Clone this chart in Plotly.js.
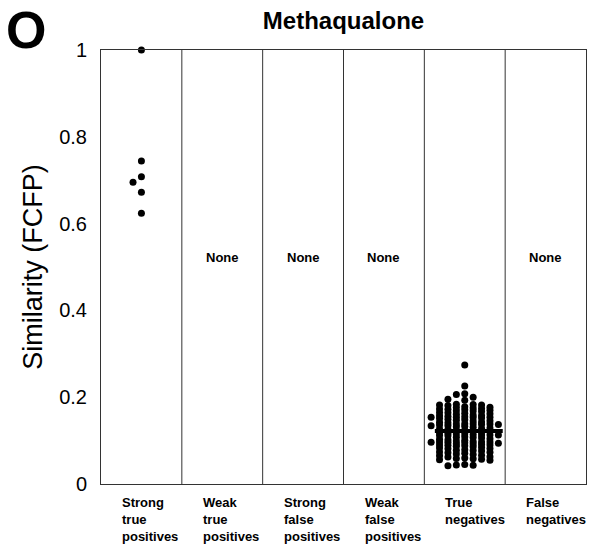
<!DOCTYPE html>
<html>
<head>
<meta charset="utf-8">
<script src="https://cdn.plot.ly/plotly-3.0.1.min.js"></script>
<style>
  html, body { margin: 0; padding: 0; background: #fff; }
  #chart { width: 589px; height: 550px; }
</style>
</head>
<body>
<div id="chart"></div>
<script>
// Outcome groups along the x axis
const categories = [
  'Strong true positives', 'Weak true positives', 'Strong false positives',
  'Weak false positives', 'True negatives', 'False negatives'
];
const categoryLabels = [
  'Strong<br>true<br>positives', 'Weak<br>true<br>positives', 'Strong<br>false<br>positives',
  'Weak<br>false<br>positives', 'True<br>negatives', 'False<br>negatives'
];

// FCFP similarity values per group
const strongTruePositives = [1.0, 0.744, 0.708, 0.695, 0.672, 0.624];
const weakTruePositives = [];
const strongFalsePositives = [];
const weakFalsePositives = [];
const trueNegatives = [
  0.274, 0.226, 0.208, 0.206, 0.200, 0.195, 0.193,
  0.184, 0.183, 0.182, 0.182, 0.181,
  0.178, 0.177, 0.176, 0.175, 0.174, 0.173, 0.172, 0.171, 0.170,
  0.169, 0.168, 0.167, 0.165, 0.164, 0.163, 0.162, 0.161,
  0.159, 0.158, 0.157, 0.156, 0.155, 0.154, 0.154, 0.154, 0.153, 0.152, 0.151,
  0.149, 0.148, 0.147, 0.146, 0.145, 0.143, 0.142, 0.141,
  0.139, 0.138, 0.138, 0.138, 0.137, 0.137, 0.136, 0.135, 0.134, 0.133, 0.132, 0.131,
  0.129, 0.128, 0.127, 0.126, 0.124, 0.123, 0.122, 0.121,
  0.119, 0.118, 0.117, 0.116, 0.115, 0.114, 0.113, 0.113, 0.113, 0.112, 0.111,
  0.109, 0.108, 0.107, 0.106, 0.104, 0.103, 0.102, 0.101,
  0.099, 0.098, 0.097, 0.097, 0.097, 0.096, 0.096, 0.095, 0.094, 0.093, 0.092, 0.091, 0.090, 0.090,
  0.089, 0.088, 0.087, 0.086, 0.084, 0.083, 0.082, 0.081,
  0.079, 0.078, 0.077, 0.076, 0.074, 0.073, 0.072, 0.071,
  0.069, 0.068, 0.066, 0.065, 0.063, 0.062, 0.060,
  0.059, 0.058, 0.057, 0.056, 0.055,
  0.045, 0.044, 0.043, 0.042
];
const falseNegatives = [];

const groups = [
  strongTruePositives, weakTruePositives, strongFalsePositives,
  weakFalsePositives, trueNegatives, falseNegatives
];
// groups that get a median bar
const showMedian = [false, false, false, false, true, false];

const FONT = 'Arial, "Liberation Sans", sans-serif';

// Column-scatter layout: points go into fixed horizontal slots.
// 1) an inner slot (|s| <= 3) with a full dot of clearance, nearest the centre first;
// 2) otherwise the inner slot with the most room, if dots may overlap there;
// 3) otherwise the roomiest slot of the next ring out (|s| = 4, 5, ...).
function swarm(values, center, slotWidth) {
  const INNER = 3, MAXRING = 6;
  const order = [0];
  for (let k = 1; k <= MAXRING; k++) order.push(-k, k);
  const fullGap = 0.0135, overlapGap = 0.0056;
  const lastInSlot = {};
  const room = (s, v) => lastInSlot[s] === undefined ? Infinity : lastInSlot[s] - v;
  const roomiest = (slots, v) => slots.reduce((b, s) => (room(s, v) > room(b, v) ? s : b), slots[0]);
  const inner = order.filter(s => Math.abs(s) <= INNER);
  const xs = [], ys = [];
  const sorted = values.slice().sort((a, b) => b - a);
  for (const v of sorted) {
    let slot = inner.find(s => room(s, v) >= fullGap - 1e-9);
    if (slot === undefined) {
      const b = roomiest(inner, v);
      if (room(b, v) >= overlapGap - 1e-9) slot = b;
    }
    for (let k = INNER + 1; slot === undefined && k <= MAXRING; k++) {
      const b = roomiest([-k, k], v);
      if (room(b, v) >= overlapGap - 1e-9) slot = b;
    }
    if (slot === undefined) slot = roomiest(order, v);
    lastInSlot[slot] = v;
    xs.push(center + slot * slotWidth);
    ys.push(v);
  }
  return { xs, ys };
}

function median(arr) {
  const a = arr.slice().sort((p, q) => p - q);
  const m = Math.floor(a.length / 2);
  return a.length % 2 ? a[m] : (a[m - 1] + a[m]) / 2;
}

const traces = [];
const shapes = [];
const annotations = [];

groups.forEach((vals, i) => {
  if (vals.length) {
    const p = swarm(vals, i, 0.104);
    traces.push({
      type: 'scatter', mode: 'markers', name: categories[i],
      x: p.xs, y: p.ys, cliponaxis: false,
      marker: { color: '#000', size: 7 },
      hoverinfo: 'y'
    });
    if (showMedian[i]) {
      const med = median(vals);
      shapes.push({
        type: 'line', xref: 'x', yref: 'y',
        x0: i - 0.37, x1: i + 0.47, y0: med, y1: med,
        line: { color: '#000', width: 4 }
      });
    }
  } else {
    annotations.push({
      xref: 'x', yref: 'y', x: i, y: 0.523, text: 'None', showarrow: false,
      font: { family: FONT, size: 13, color: '#000', weight: 700 }
    });
  }
  // column dividers
  if (i > 0) {
    shapes.push({
      type: 'line', xref: 'x', yref: 'paper', x0: i - 0.5, x1: i - 0.5, y0: 0, y1: 1,
      line: { color: '#333', width: 1 }
    });
  }
  // group labels under each column
  annotations.push({
    xref: 'x', yref: 'paper', x: i - 0.5, y: 0, xanchor: 'left', yanchor: 'top',
    xshift: 19, yshift: -9, align: 'left', showarrow: false,
    text: categoryLabels[i],
    font: { family: FONT, size: 13, color: '#000', weight: 700 }
  });
});

// panel letter
annotations.push({
  xref: 'paper', yref: 'paper', x: -0.1546, y: 1.046, xanchor: 'center', yanchor: 'middle',
  text: 'O', showarrow: false,
  font: { family: FONT, size: 52, color: '#000', weight: 700 }
});

const layout = {
  width: 589, height: 550,
  margin: { l: 101, r: 3, t: 50, b: 66 },
  paper_bgcolor: '#fff', plot_bgcolor: '#fff',
  showlegend: false,
  title: {
    text: 'Methaqualone', xref: 'paper', x: 0.5, xanchor: 'center',
    yref: 'container', y: 1 - 21 / 550, yanchor: 'middle',
    font: { family: FONT, size: 24, color: '#000', weight: 700 }
  },
  xaxis: {
    range: [-0.5, categories.length - 0.5],
    showgrid: false, zeroline: false, showticklabels: false, ticks: '',
    showline: true, mirror: true, linecolor: '#333', linewidth: 1, fixedrange: true
  },
  yaxis: {
    range: [0, 1], tickvals: [0, 0.2, 0.4, 0.6, 0.8, 1],
    showgrid: false, zeroline: false, ticks: '', ticklabelstandoff: 9,
    showline: true, mirror: true, linecolor: '#333', linewidth: 1,
    tickfont: { family: FONT, size: 20, color: '#000' },
    title: { text: 'Similarity (FCFP)', standoff: 8, font: { family: FONT, size: 27, color: '#000' } },
    fixedrange: true
  },
  shapes, annotations
};

Plotly.newPlot('chart', traces, layout, { displayModeBar: false, staticPlot: true });
</script>
</body>
</html>
